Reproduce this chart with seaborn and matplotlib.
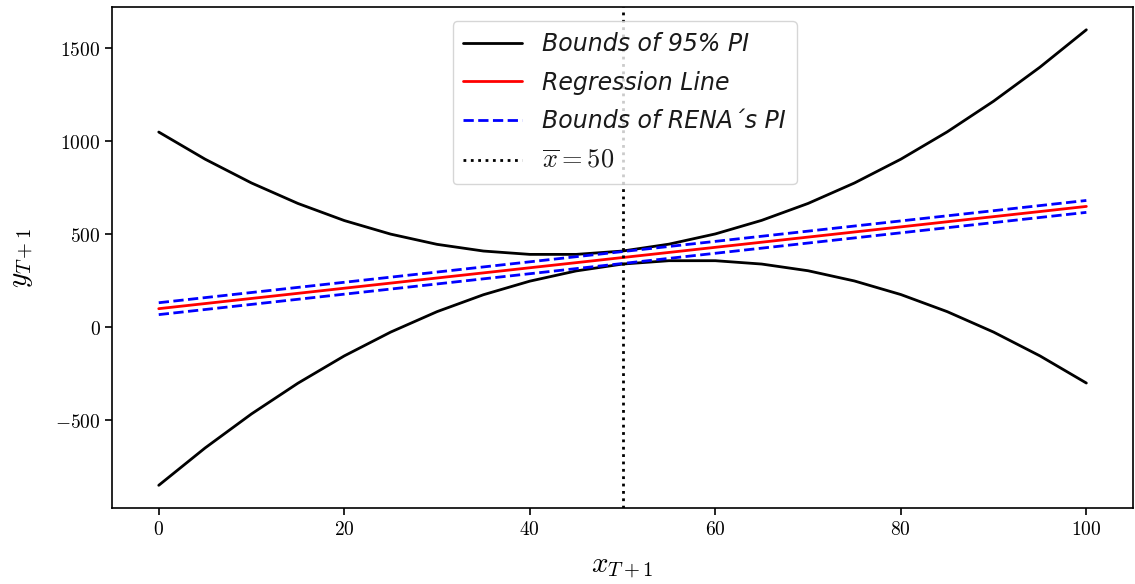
import numpy as np
import pandas as pd
import matplotlib
matplotlib.use("Agg")
import matplotlib.pyplot as plt
import matplotlib.ticker as mticker
import seaborn as sns

# ---- data ----
x_vals = [0, 5, 10, 15, 20, 25, 30, 35, 40, 45, 50, 55, 60, 65, 70, 75, 80, 85, 90, 95, 100]
regression = [100, 127.5, 155, 182.5, 210, 237.5, 265, 292.5, 320, 347.5, 375,
              402.5, 430, 457.5, 485, 512.5, 540, 567.5, 595, 622.5, 650]
pi_upper = [1050, 904, 776, 666, 574, 501, 446, 410, 392, 392, 410,
            447, 502, 575, 666, 776, 904, 1051, 1216, 1399, 1600]
pi_lower = [-850, -649, -466, -301, -154, -26, 84, 175, 248, 303, 340,
            358, 358, 340, 304, 249, 176, 84, -26, -154, -300]
rena_upper = [132, 159.5, 187, 214.5, 242, 269.5, 297, 324.5, 352, 379.5, 407,
              434.5, 462, 489.5, 517, 544.5, 572, 599.5, 627, 654.5, 682]
rena_lower = [68, 95.5, 123, 150.5, 178, 205.5, 233, 260.5, 288, 315.5, 343,
              370.5, 398, 425.5, 453, 480.5, 508, 535.5, 563, 590.5, 618]
x_bar = 50

labels = ["Bounds of 95% PI", "Regression Line", "Bounds of RENA\u00b4s PI", r"$\overline{x} = 50$"]

df = pd.DataFrame({"x": x_vals, "reg": regression, "pu": pi_upper, "pl": pi_lower,
                   "ru": rena_upper, "rl": rena_lower})

sns.set_style("ticks")
plt.rcParams["mathtext.fontset"] = "cm"
plt.rcParams["axes.edgecolor"] = "black"
plt.rcParams["axes.linewidth"] = 1.2
plt.rcParams["text.color"] = "#1a1a1a"
plt.rcParams["axes.labelcolor"] = "black"
plt.rcParams["xtick.color"] = "black"
plt.rcParams["ytick.color"] = "black"

fig = plt.figure(figsize=(11.35, 5.84), dpi=100)
ax = fig.add_axes([0.099, 0.130, 0.899, 0.858])

sns.lineplot(data=df, x="x", y="pu", ax=ax, color="black", lw=2, label=labels[0])
sns.lineplot(data=df, x="x", y="pl", ax=ax, color="black", lw=2)
sns.lineplot(data=df, x="x", y="reg", ax=ax, color="red", lw=2, label=labels[1])
sns.lineplot(data=df, x="x", y="ru", ax=ax, color="blue", lw=2, ls="--", label=labels[2])
sns.lineplot(data=df, x="x", y="rl", ax=ax, color="blue", lw=2, ls="--")
ax.axvline(x_bar, color="black", lw=2, ls=":", label=labels[3])

ax.set_xlabel(r"$x_{T+1}$", fontsize=21, labelpad=10)
ax.set_ylabel(r"$y_{T+1}$", fontsize=21, labelpad=14)
ax.set_yticks([-500, 0, 500, 1000, 1500])
ax.set_xticks([0, 20, 40, 60, 80, 100])
fmt = mticker.FuncFormatter(lambda v, p: f"${v:g}$")
ax.xaxis.set_major_formatter(fmt)
ax.yaxis.set_major_formatter(fmt)
ax.tick_params(labelsize=14, length=5, width=1.2, direction="out", color="black")
for s in ax.spines.values():
    s.set_visible(True)
    s.set_color("black")

handles, labs = ax.get_legend_handles_labels()
leg = ax.legend(handles, labs, loc="upper center", fontsize=17, frameon=True,
                framealpha=0.8, fancybox=True, handlelength=2.5, handletextpad=0.85,
                labelspacing=0.62, borderpad=0.45, bbox_to_anchor=(0.502, 0.995))
for t in leg.get_texts()[:3]:
    t.set_fontstyle("italic")
leg.get_texts()[3].set_fontsize(19)

fig.savefig("out.png", dpi=100)
